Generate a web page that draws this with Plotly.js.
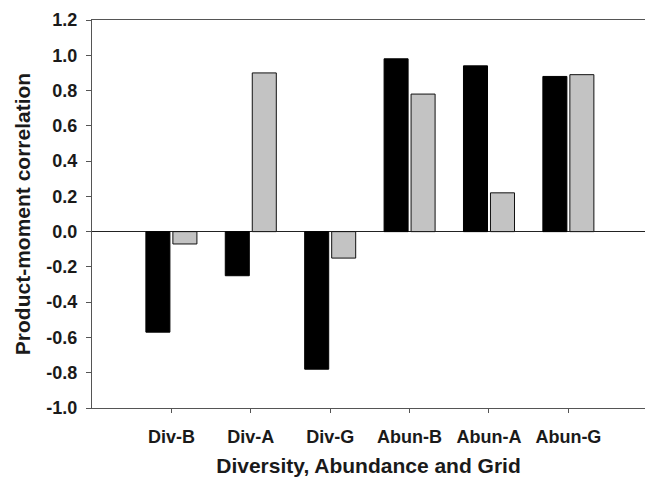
<!DOCTYPE html>
<html>
<head>
<meta charset="utf-8">
<script src="https://cdn.plot.ly/plotly-3.0.1.min.js"></script>
<style>
  html, body { margin: 0; padding: 0; background: #ffffff; }
  #chart { width: 645px; height: 485px; }
</style>
</head>
<body>
<div id="chart"></div>
<script>
// Categories along the x axis
const categories = ['Div-B', 'Div-A', 'Div-G', 'Abun-B', 'Abun-A', 'Abun-G'];

// Product-moment correlations for the two series (black and grey bars)
const seriesBlack = [-0.57, -0.25, -0.78, 0.98, 0.94, 0.88];
const seriesGrey  = [-0.07,  0.90, -0.15, 0.78, 0.22, 0.89];

// Y-axis ticks and their labels
const yTickVals = [-1.0, -0.8, -0.6, -0.4, -0.2, 0.0, 0.2, 0.4, 0.6, 0.8, 1.0, 1.2];
const yTickText = ['-1.0', '-0.8', '-0.6', '-0.4', '-0.2', '0.0', '0.2', '0.4', '0.6', '0.8', '1.0', '1.2'];

const xIdx = categories.map((_, i) => i);
const FONT = 'Liberation Sans, Arial, sans-serif';
const INK = '#1a1a1a';

const traces = [
  {
    type: 'bar',
    name: 'Series 1',
    x: xIdx,
    y: seriesBlack,
    marker: { color: '#000000', line: { color: '#000000', width: 1 } },
    hoverinfo: 'x+y'
  },
  {
    type: 'bar',
    name: 'Series 2',
    x: xIdx,
    y: seriesGrey,
    marker: { color: '#c3c3c3', line: { color: '#111111', width: 1 } },
    hoverinfo: 'x+y'
  }
];

const layout = {
  width: 645,
  height: 485,
  margin: { l: 92, r: 0, t: 20, b: 77, pad: 0 },
  paper_bgcolor: '#ffffff',
  plot_bgcolor: '#ffffff',
  showlegend: false,
  barmode: 'group',
  bargap: 0.32,
  bargroupgap: 0.11,
  font: { family: FONT, color: INK },
  xaxis: {
    range: [-1, 5.965],
    tickvals: xIdx,
    ticktext: categories,
    showgrid: false,
    zeroline: false,
    showline: true,
    mirror: true,
    linecolor: '#555555',
    linewidth: 1,
    ticks: 'outside',
    ticklen: 4,
    tickcolor: '#555555',
    ticklabelstandoff: 8,
    tickfont: { family: FONT, size: 18, color: INK, weight: 'bold' },
    title: {
      text: '<b>Diversity, Abundance and Grid</b>',
      font: { family: FONT, size: 21, color: INK },
      standoff: 12
    }
  },
  yaxis: {
    range: [-1.0, 1.2],
    tickvals: yTickVals,
    ticktext: yTickText,
    showgrid: false,
    zeroline: true,
    zerolinecolor: '#222222',
    zerolinewidth: 1.5,
    showline: true,
    linecolor: '#555555',
    linewidth: 1,
    ticks: 'outside',
    ticklen: 5,
    tickcolor: '#555555',
    ticklabelstandoff: 5,
    tickfont: { family: FONT, size: 18, color: INK, weight: 'bold' },
    title: {
      text: '<b>Product-moment correlation</b>',
      font: { family: FONT, size: 21, color: INK },
      standoff: 10
    }
  }
};

Plotly.newPlot('chart', traces, layout, { displayModeBar: false, staticPlot: true });
</script>
</body>
</html>
